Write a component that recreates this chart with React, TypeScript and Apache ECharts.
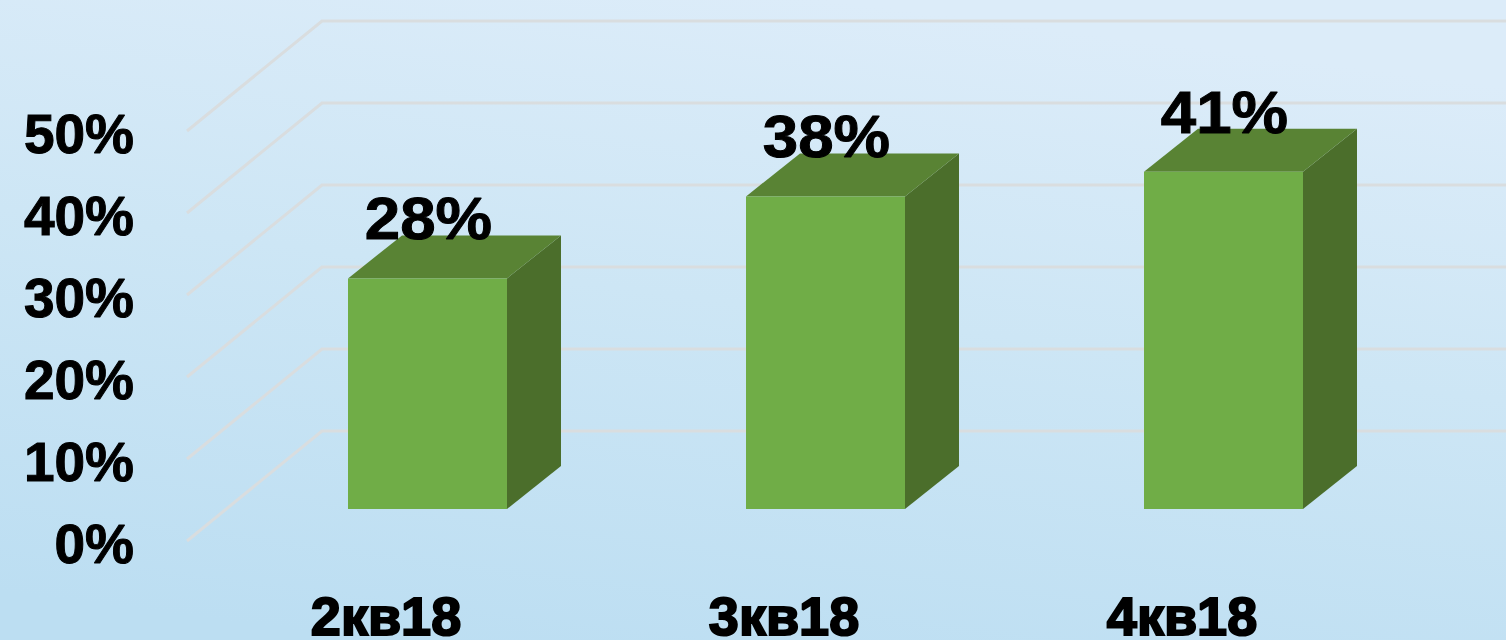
import React, { useEffect, useRef } from "react";
import * as echarts from "echarts";

const categories = ["2кв18", "3кв18", "4кв18"];
const values = [28, 38, 41];
const dataLabels = ["28%", "38%", "41%"];
const gridValues = [0, 10, 20, 30, 40, 50];

const FONT = "'Liberation Sans', Arial, sans-serif";

export default function App() {
  const ref = useRef<HTMLDivElement>(null);
  useEffect(() => {
    const chart = echarts.init(ref.current!, undefined, { renderer: "svg" });
    chart.setOption({
      animation: false,
      backgroundColor: {
        type: "linear", x: 0.25, y: 1, x2: 0.55, y2: 0,
        colorStops: [
          { offset: 0, color: "#bcdef2" },
          { offset: 0.55, color: "#cde6f5" },
          { offset: 1, color: "#dcecf9" },
        ],
      },
      grid: { left: 187, top: 131, width: 1194, height: 410, outerBoundsMode: "none" },
      xAxis: {
        type: "category",
        data: categories,
        axisLine: { show: false },
        axisTick: { show: false },
        axisLabel: {
          fontFamily: FONT, fontWeight: "bold", fontSize: 54, lineHeight: 44, color: "#000", margin: 53,
          textBorderColor: "#000", textBorderWidth: 2,
        },
      },
      yAxis: {
        type: "value",
        min: 0,
        max: 50,
        interval: 10,
        splitLine: { show: false },
        axisLine: { show: false },
        axisTick: { show: false },
        axisLabel: {
          fontFamily: FONT, fontWeight: "bold", fontSize: 55, color: "#000", margin: 53,
          formatter: "{value}%", verticalAlign: "top", lineHeight: 6,
          textBorderColor: "#000", textBorderWidth: 1,
        },
      },
      series: [
        {
          type: "custom",
          data: gridValues.map((v) => [0, v]),
          clip: false,
          silent: true,
          renderItem: (params: any, api: any) => {
            const y = api.coord([0, api.value(1)])[1];
            const x0 = params.coordSys.x;
            return {
              type: "polyline",
              shape: { points: [[x0, y], [x0 + 135, y - 110], [1506, y - 110]] },
              style: { fill: "none", stroke: "#d9dddf", lineWidth: 3 },
            };
          },
        },
        {
          type: "custom",
          data: values.map((v, i) => [i, v]),
          clip: false,
          silent: true,
          z: 3,
          renderItem: (params: any, api: any) => {
            const i = api.value(0);
            const top = api.coord([i, api.value(1)]);
            const base = api.coord([i, 0]);
            const ox = 41.5, oy = -33, hw = 79.5, dx = 54, dy = -43;
            const l = top[0] + ox - hw, r = top[0] + ox + hw;
            const t = top[1] + oy, b = base[1] + oy + 1;
            return {
              type: "group",
              children: [
                { type: "polygon", shape: { points: [[r, t], [r + dx, t + dy], [r + dx, b + dy], [r, b]] }, style: { fill: "#4b6e2b" } },
                { type: "polygon", shape: { points: [[l, t], [l + dx, t + dy], [r + dx, t + dy], [r, t]] }, style: { fill: "#598334" } },
                { type: "rect", shape: { x: l, y: t, width: hw * 2, height: b - t }, style: { fill: "#70ad47" } },
                {
                  type: "text",
                  x: top[0] + ox + 1,
                  y: t - 60,
                  scaleX: 1.06,
                  style: {
                    text: dataLabels[params.dataIndex], font: `bold 60px ${FONT}`, fill: "#000",
                    stroke: "#000", lineWidth: 1, align: "center", verticalAlign: "middle",
                  },
                },
              ],
            };
          },
        },
      ],
    });
    return () => chart.dispose();
  }, []);
  return <div ref={ref} style={{ position: "fixed", left: 0, top: 0, width: 1506, height: 640 }} />;
}
